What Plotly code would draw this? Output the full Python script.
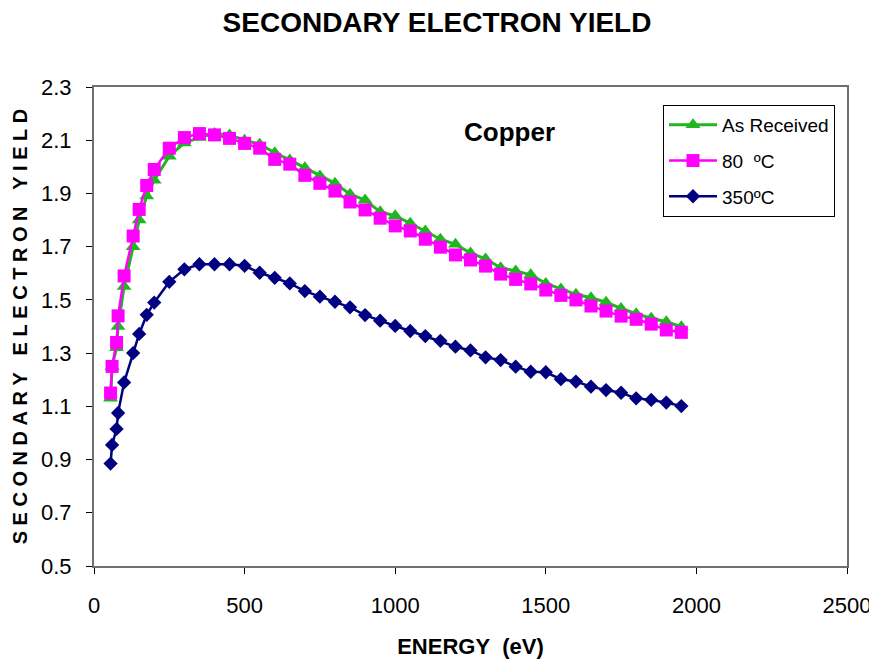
import plotly.graph_objects as go

# Energy (eV)
energy = [55, 60, 75, 80, 100, 130, 150, 175, 200, 250, 300, 350, 400, 450, 500,
          550, 600, 650, 700, 750, 800, 850, 900, 950, 1000, 1050, 1100, 1150,
          1200, 1250, 1300, 1350, 1400, 1450, 1500, 1550, 1600, 1650, 1700, 1750,
          1800, 1850, 1900, 1950]

as_received = [1.13, 1.25, 1.32, 1.40, 1.55, 1.70, 1.80, 1.89, 1.95, 2.04, 2.09,
               2.11, 2.125, 2.12, 2.10, 2.085, 2.053, 2.026, 1.997, 1.966, 1.938,
               1.897, 1.875, 1.831, 1.816, 1.788, 1.759, 1.728, 1.709, 1.676,
               1.654, 1.621, 1.609, 1.594, 1.562, 1.541, 1.521, 1.508, 1.491,
               1.468, 1.448, 1.431, 1.418, 1.399]

c80 = [1.15, 1.25, 1.34, 1.44, 1.59, 1.74, 1.84, 1.93, 1.99, 2.07, 2.11, 2.125,
       2.12, 2.107, 2.088, 2.07, 2.028, 2.01, 1.968, 1.938, 1.909, 1.868, 1.838,
       1.807, 1.778, 1.759, 1.728, 1.698, 1.669, 1.65, 1.627, 1.597, 1.577,
       1.56, 1.537, 1.517, 1.50, 1.477, 1.458, 1.439, 1.427, 1.409, 1.387, 1.378]

c350 = [0.885, 0.955, 1.015, 1.075, 1.19, 1.30, 1.372, 1.444, 1.49, 1.568, 1.615,
        1.634, 1.634, 1.634, 1.628, 1.602, 1.583, 1.562, 1.533, 1.512, 1.493,
        1.472, 1.443, 1.422, 1.402, 1.383, 1.364, 1.346, 1.324, 1.31, 1.284,
        1.274, 1.249, 1.230, 1.228, 1.202, 1.193, 1.174, 1.161, 1.151, 1.130,
        1.124, 1.114, 1.101]

series_names = ["As Received", "80  \u00baC", "350\u00baC"]
x_ticks = [0, 500, 1000, 1500, 2000, 2500]
y_ticks = [0.5, 0.7, 0.9, 1.1, 1.3, 1.5, 1.7, 1.9, 2.1, 2.3]

FONT = "Liberation Sans, Arial, Helvetica, sans-serif"

fig = go.Figure()
fig.add_trace(go.Scatter(
    x=energy, y=as_received, name=series_names[0], mode="lines+markers",
    line=dict(color="#22b522", width=3),
    marker=dict(symbol="triangle-up", size=13, color="#22b522"),
    legendgroup="a"))
fig.add_trace(go.Scatter(
    x=energy, y=c80, name=series_names[1], mode="lines+markers",
    line=dict(color="#ff00ff", width=2.5),
    marker=dict(symbol="square", size=13, color="#ff00ff"),
    legendgroup="b"))
fig.add_trace(go.Scatter(
    x=energy, y=c350, name=series_names[2], mode="lines+markers",
    line=dict(color="#000080", width=2.5),
    marker=dict(symbol="diamond", size=11, color="#000080"),
    legendgroup="c"))

ytitle = "\u00a0\u00a0\u00a0".join("\u00a0".join(w) for w in ["SECONDARY", "ELECTRON", "YIELD"])

fig.update_layout(
    width=877, height=666,
    margin=dict(l=86, r=38, t=79, b=108, autoexpand=False),
    paper_bgcolor="white", plot_bgcolor="white",
    font=dict(family=FONT, color="black"),
    title=dict(text="<b>SECONDARY ELECTRON YIELD</b>", x=429 / 877, xanchor="center",
               y=1 - 14 / 666, yanchor="middle", yref="container",
               font=dict(size=28, family=FONT, color="black")),
    xaxis=dict(range=[0, 2500], tickvals=x_ticks, ticktext=[str(v) for v in x_ticks],
               showgrid=False, zeroline=False, showline=True, linecolor="#707070",
               linewidth=2, mirror=True, ticks="outside", ticklen=6, tickcolor="black",
               tickfont=dict(size=22, family=FONT), ticklabelstandoff=13,
               automargin=False,
               title=dict(text="<b>ENERGY\u00a0\u00a0(eV)</b>", font=dict(size=22, family=FONT),
                          standoff=21)),
    yaxis=dict(range=[0.5, 2.3], tickvals=y_ticks, ticktext=["%.1f" % v for v in y_ticks],
               showgrid=False, zeroline=False, showline=True, linecolor="#707070",
               linewidth=2, mirror=True, ticks="outside", ticklen=6, tickcolor="black",
               tickfont=dict(size=22, family=FONT), ticklabelstandoff=10,
               automargin=False,
               title=dict(text="<b>" + ytitle + "</b>", font=dict(size=20, family=FONT),
                          standoff=8)),
    legend=dict(x=(663 - 94) / 753, y=(566 - 105) / 479, xanchor="left", yanchor="top",
                bgcolor="white", bordercolor="black", borderwidth=1,
                font=dict(size=19, family=FONT), traceorder="grouped",
                tracegroupgap=8, itemwidth=48),
    showlegend=True,
)

# "Copper" label placed in data coordinates near the upper middle of the plot
copper_x, copper_y = 1380, 2.13
fig.add_annotation(x=copper_x, y=copper_y, xref="x", yref="y", text="<b>Copper</b>",
                   showarrow=False, font=dict(size=26, family=FONT, color="black"),
                   xanchor="center", yanchor="middle")

fig.write_html("out.html")
